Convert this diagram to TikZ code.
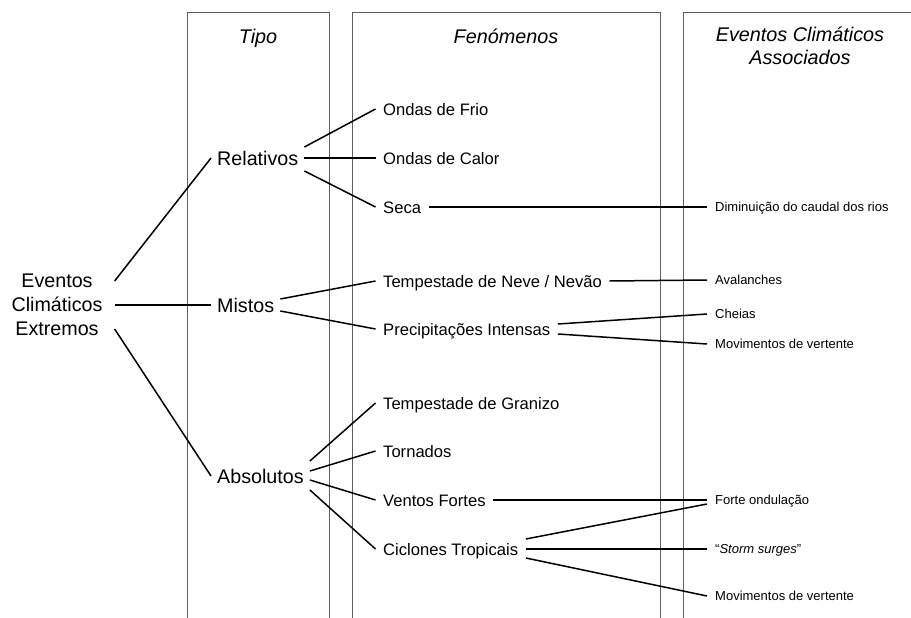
\documentclass[tikz,border=0pt]{standalone}
\usepackage{fontspec}
\setmainfont{Liberation Sans}
\usetikzlibrary{calc}
\begin{document}
\begin{tikzpicture}[x=1pt,y=-1pt,
  colline/.style={draw={rgb,255:red,95;green,95;blue,95}, line width=0.9pt},
  conn/.style={draw=black, line width=1.5pt},
  bignode/.style={inner ysep=0pt, inner xsep=6pt, text height=14.2pt, text depth=0pt, font=\fontsize{19.7}{24}\selectfont},
  phenode/.style={inner ysep=0pt, inner xsep=7.5pt, text height=12pt, text depth=0pt, font=\fontsize{16.6}{20}\selectfont},
  smallnode/.style={inner ysep=0pt, inner xsep=8pt, text height=9.4pt, text depth=0pt, font=\fontsize{13}{16}\selectfont},
  headnode/.style={inner sep=0pt, anchor=north, text height=14.3pt, text depth=0pt, font=\fontsize{19.8}{22.5}\selectfont\itshape}
]
\useasboundingbox (0,0) rectangle (911,618);
% columns
\draw[colline] (187,620) -- (187,12) -- (329,12) -- (329,620);
\draw[colline] (352,620) -- (352,12) -- (660,12) -- (660,620);
\draw[colline] (683,620) -- (683,12) -- (915,12);
% headers
\node[headnode] (htipo) at (258,29) {Tipo};
\node[headnode] (hfen) at (506,29) {Fenómenos};
\node[headnode] (hass) at (800,27) {Eventos Climáticos};
\node[headnode] (hass2) at (800,50) {Associados};
% root
\node[inner xsep=12pt, inner ysep=0pt, align=center, font=\fontsize{19.7}{24}\selectfont] (ece) at (57,305) {Eventos\\Climáticos\\Extremos};
% types
\node[bignode, anchor=west] (rel) at (211,158) {Relativos};
\node[bignode, anchor=west] (mis) at (211,305) {Mistos};
\node[bignode, anchor=west] (abs) at (211,476) {Absolutos};
% phenomena
\node[phenode, anchor=west] (frio) at (375.5,109) {Ondas de Frio};
\node[phenode, anchor=west] (calor) at (375.5,158) {Ondas de Calor};
\node[phenode, anchor=west] (seca) at (375.5,207) {Seca};
\node[phenode, anchor=west] (neve) at (375.5,281) {Tempestade de Neve / Nevão};
\node[phenode, anchor=west] (prec) at (375.5,329) {Precipitações Intensas};
\node[phenode, anchor=west] (gran) at (375.5,403) {Tempestade de Granizo};
\node[phenode, anchor=west] (torn) at (375.5,451) {Tornados};
\node[phenode, anchor=west] (vent) at (375.5,500) {Ventos Fortes};
\node[phenode, anchor=west] (cicl) at (375.5,549) {Ciclones Tropicais};
% associated events
\node[smallnode, anchor=west] (dim) at (707,207) {Diminuição do caudal dos rios};
\node[smallnode, anchor=west] (aval) at (707,280) {Avalanches};
\node[smallnode, anchor=west] (chei) at (707,314) {Cheias};
\node[smallnode, anchor=west] (mov1) at (707,344) {Movimentos de vertente};
\node[smallnode, anchor=west] (forte) at (707,500) {Forte ondulação};
\node[smallnode, anchor=west] (storm) at (707,549) {“\textit{Storm surges}”};
\node[smallnode, anchor=west] (mov2) at (707,596) {Movimentos de vertente};
% connectors
\draw[conn] ($(ece.east)+(0,-24)$) -- (rel.west);
\draw[conn] (ece.east) -- (mis.west);
\draw[conn] ($(ece.east)+(0,24)$) -- (abs.west);
\draw[conn] ($(rel.east)+(0,-11)$) -- (frio.west);
\draw[conn] (rel.east) -- (calor.west);
\draw[conn] ($(rel.east)+(0,13)$) -- (seca.west);
\draw[conn] (seca.east) -- (dim.west);
\draw[conn] ($(mis.east)+(0,-6)$) -- (neve.west);
\draw[conn] ($(mis.east)+(0,6)$) -- (prec.west);
\draw[conn] (neve.east) -- (aval.west);
\draw[conn] ($(prec.east)+(0,-5)$) -- (chei.west);
\draw[conn] ($(prec.east)+(0,5)$) -- (mov1.west);
\draw[conn] ($(abs.east)+(0,-15)$) -- (gran.west);
\draw[conn] ($(abs.east)+(0,-5)$) -- (torn.west);
\draw[conn] ($(abs.east)+(0,4)$) -- (vent.west);
\draw[conn] ($(abs.east)+(0,14)$) -- (cicl.west);
\draw[conn] (vent.east) -- (forte.west);
\draw[conn] ($(cicl.east)+(0,-10)$) -- ($(forte.west)+(0,4)$);
\draw[conn] (cicl.east) -- (storm.west);
\draw[conn] ($(cicl.east)+(0,9)$) -- (mov2.west);
\end{tikzpicture}
\end{document}
